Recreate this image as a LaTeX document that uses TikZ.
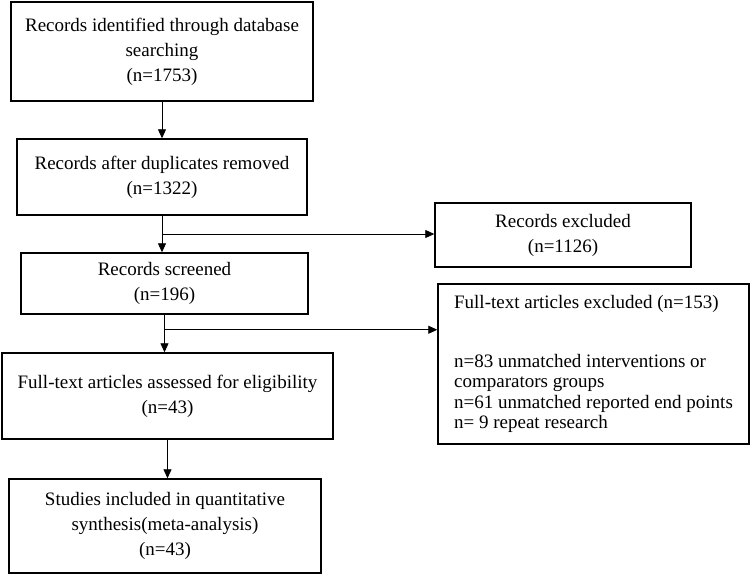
\documentclass[tikz,border=0pt]{standalone}
\usepackage{fontspec}
\setmainfont{Liberation Serif}
\usetikzlibrary{arrows.meta}
\begin{document}
\begin{tikzpicture}[x=1pt,y=-1pt,>={Triangle[length=9pt,width=8pt]},
    box/.style={draw,line width=1.4pt,align=center,inner sep=0pt,font=\fontsize{19}{25}\selectfont},
    flow/.style={->,line width=0.8pt}]
\useasboundingbox (0,0) rectangle (751,574);
\node[box,minimum width=302pt,minimum height=99pt] (ident) at (162,51.5) {Records identified through database\\searching\\(n=1753)};
\node[box,minimum width=290pt,minimum height=76pt] (dup) at (162,177) {Records after duplicates removed\\(n=1322)};
\node[box,minimum width=287pt,minimum height=61pt] (screen) at (164.5,283.5) {Records screened\\(n=196)};
\node[box,minimum width=331pt,minimum height=86pt] (full) at (167.5,396) {Full-text articles assessed for eligibility\\(n=43)};
\node[box,minimum width=312pt,minimum height=94pt] (incl) at (165,526) {Studies included in quantitative\\synthesis(meta-analysis)\\(n=43)};
\node[box,minimum width=256pt,minimum height=64pt] (excl) at (563,235) {Records excluded\\(n=1126)};
\node[box,align=left,minimum width=311pt,minimum height=160pt,font=\fontsize{19}{20.5}\selectfont] (fexcl) at (593.5,364)
  {Full-text articles excluded (n=153)\\[38pt]n=83 unmatched interventions or\\comparators groups\\n=61 unmatched reported end points\\n= 9 repeat research};
% main flow
\draw[flow] (ident.south) -- (ident.south |- dup.north);
\draw[flow] (dup.south) -- (dup.south |- screen.north);
\draw[flow] (screen.south) -- (screen.south |- full.north);
\draw[flow] (full.south) -- (full.south |- incl.north);
% exclusions
\path (dup.south) -- (dup.south |- screen.north) coordinate[pos=.5] (c1);
\path (screen.south) -- (screen.south |- full.north) coordinate[pos=.4] (c2);
\draw[flow] (c1) -- (c1 -| excl.west);
\draw[flow] (c2) -- (c2 -| fexcl.west);
\end{tikzpicture}
\end{document}
